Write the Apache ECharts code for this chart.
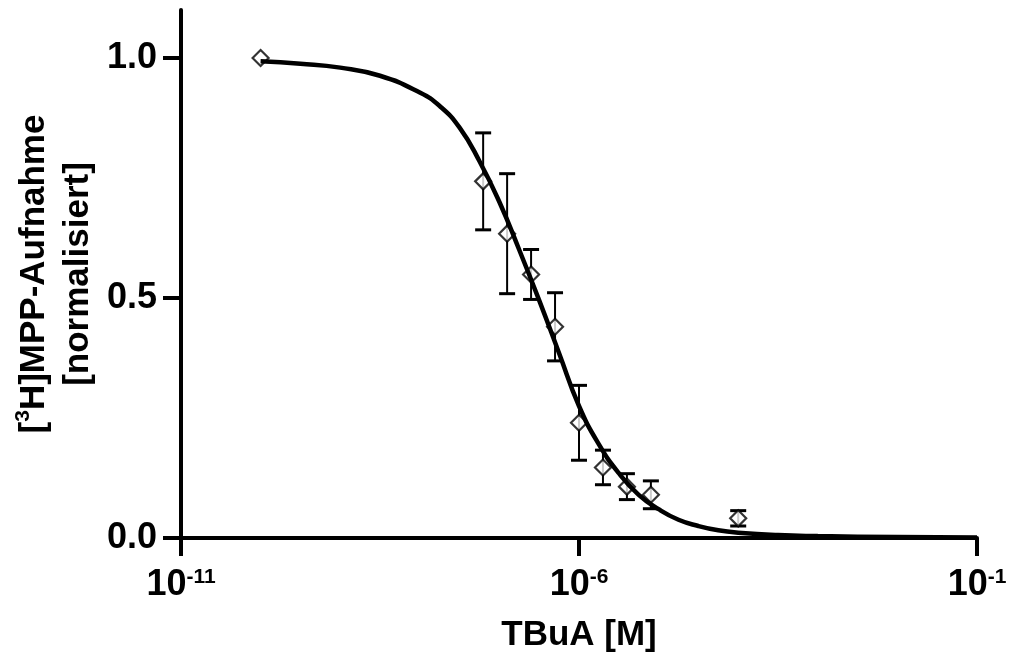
<!DOCTYPE html>
<html>
<head>
<meta charset="utf-8">
<title>TBuA – [3H]MPP-Aufnahme</title>
<script src="https://cdn.jsdelivr.net/npm/echarts@6/dist/echarts.min.js"></script>
<style>
  html, body { margin: 0; padding: 0; background: #fff; }
  #chart { width: 1010px; height: 654px; }
</style>
</head>
<body>
<div id="chart"></div>
<script>
// Measured uptake (normalised) for each TBuA concentration, with SEM
const concentrationM = [1e-10, 6.25e-8, 1.25e-7, 2.5e-7, 5e-7, 1e-6, 2e-6, 4e-6, 8e-6, 1e-4];
const uptake = [1.0, 0.743, 0.634, 0.549, 0.440, 0.240, 0.147, 0.107, 0.090, 0.041];
const sem = [0, 0.101, 0.125, 0.052, 0.071, 0.078, 0.036, 0.027, 0.029, 0.016];

// Fitted inhibition curve, sampled along log10 concentration
const curveLogM = [-10, -9.5, -9, -8.5, -8, -7.75, -7.5, -7.25, -7, -6.75, -6.5, -6.25, -6,
  -5.75, -5.5, -5.25, -5, -4.75, -4.5, -4.25, -4, -3.5, -3, -2, -1];
const curveFit = [0.993, 0.988, 0.980, 0.963, 0.928, 0.900, 0.855, 0.785, 0.700, 0.600, 0.495,
  0.385, 0.275, 0.195, 0.135, 0.090, 0.060, 0.038, 0.025, 0.016, 0.011, 0.006, 0.004, 0.002, 0.001];

// Axis ticks: decades on x (as exponents), fractions on y
const xTickExponents = [-11, -6, -1];
const yTicks = [0, 0.5, 1.0];

const FONT = "'Liberation Sans', Arial, Helvetica, sans-serif";

const logX = concentrationM.map(c => Math.log10(c));
const pointData = logX.map((x, i) => [x, uptake[i]]);
const errorData = logX
  .map((x, i) => [x, uptake[i] - sem[i], uptake[i] + sem[i], sem[i]])
  .filter(d => d[3] > 0);
const curveData = curveLogM.map((x, i) => [x, curveFit[i]]);

const chart = echarts.init(document.getElementById('chart'), null, { renderer: 'canvas' });

chart.setOption({
  animation: false,
  backgroundColor: '#ffffff',
  grid: { left: 181, right: 33, top: 10, bottom: 116, containLabel: false, outerBoundsMode: 'none' },
  xAxis: {
    type: 'value',
    min: -11,
    max: -1,
    interval: 5,
    name: 'TBuA [M]',
    nameLocation: 'middle',
    nameGap: 77,
    nameTextStyle: { fontFamily: FONT, fontWeight: 'bold', fontSize: 35, color: '#000', lineHeight: 40 },
    axisLine: { show: true, onZero: false, lineStyle: { color: '#000', width: 4 } },
    axisTick: { show: true, inside: false, length: 18, customValues: xTickExponents, lineStyle: { color: '#000', width: 4 } },
    axisLabel: {
      customValues: xTickExponents,
      margin: 29,
      formatter: v => '{b|10}{s|' + v + '}',
      rich: {
        b: { fontFamily: FONT, fontWeight: 'bold', fontSize: 36, color: '#000', lineHeight: 36 },
        s: { fontFamily: FONT, fontWeight: 'bold', fontSize: 21, color: '#000', lineHeight: 21, verticalAlign: 'top' }
      }
    },
    splitLine: { show: false }
  },
  yAxis: {
    type: 'value',
    min: 0,
    max: 1.1,
    interval: 0.5,
    name: '{t|[}{s|3}{t|H]MPP-Aufnahme}\n{t|[normalisiert]}',
    nameLocation: 'middle',
    nameRotate: 90,
    nameGap: 78,
    nameTextStyle: {
      align: 'center',
      rich: {
        t: { fontFamily: FONT, fontWeight: 'bold', fontSize: 35, color: '#000', lineHeight: 44 },
        s: { fontFamily: FONT, fontWeight: 'bold', fontSize: 21, color: '#000', lineHeight: 30, verticalAlign: 'top' }
      }
    },
    axisLine: { show: true, onZero: false, lineStyle: { color: '#000', width: 4 } },
    axisTick: { show: true, inside: false, length: 18, customValues: yTicks, lineStyle: { color: '#000', width: 4 } },
    axisLabel: {
      customValues: yTicks,
      margin: 24,
      fontFamily: FONT,
      fontWeight: 'bold',
      fontSize: 36,
      color: '#000',
      formatter: v => v.toFixed(1)
    },
    splitLine: { show: false }
  },
  series: [
    {
      name: 'SEM',
      type: 'custom',
      z: 2,
      data: errorData,
      renderItem: (params, api) => {
        const x = api.value(0);
        const top = api.coord([x, api.value(2)]);
        const bot = api.coord([x, api.value(1)]);
        const half = 8;
        const capStyle = { stroke: '#000', lineWidth: 3 };
        return {
          type: 'group',
          children: [
            { type: 'line', shape: { x1: top[0], y1: top[1], x2: bot[0], y2: bot[1] }, style: { stroke: '#000', lineWidth: 2 } },
            { type: 'line', shape: { x1: top[0] - half, y1: top[1], x2: top[0] + half, y2: top[1] }, style: capStyle },
            { type: 'line', shape: { x1: bot[0] - half, y1: bot[1], x2: bot[0] + half, y2: bot[1] }, style: capStyle }
          ]
        };
      }
    },
    {
      name: 'Messwerte',
      type: 'scatter',
      z: 3,
      symbol: 'diamond',
      symbolSize: 16,
      itemStyle: { color: '#fff', borderColor: '#000', borderWidth: 2.2 },
      data: pointData
    },
    {
      name: 'Fit',
      type: 'line',
      z: 4,
      smooth: 0.5,
      showSymbol: false,
      symbol: 'none',
      lineStyle: { color: '#000', width: 4.5 },
      data: curveData
    }
  ]
});
</script>
</body>
</html>
